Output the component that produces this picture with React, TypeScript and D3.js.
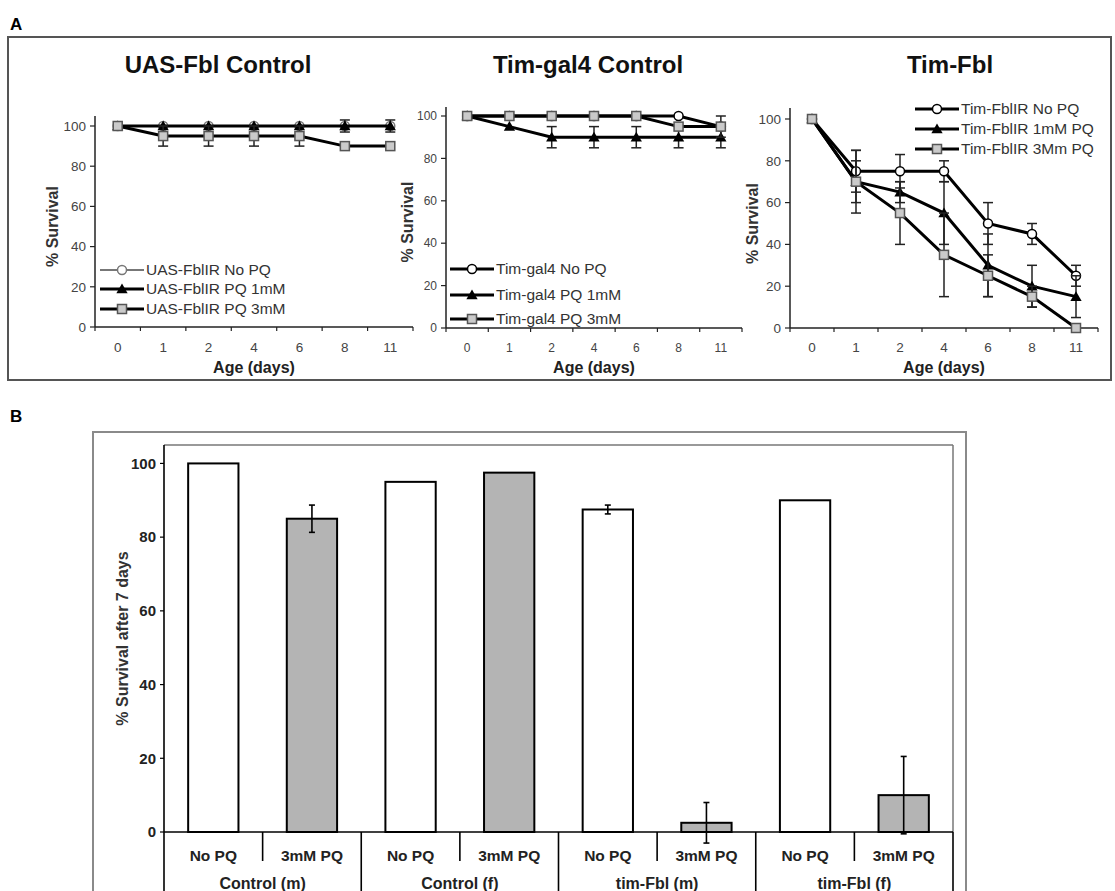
import React from 'react';
import * as d3 from 'd3';

const FONT = '"Liberation Sans", Arial, Helvetica, sans-serif';

// ---------- Panel A data ----------
const ages = ['0', '1', '2', '4', '6', '8', '11'];
const yTicksA = [0, 20, 40, 60, 80, 100];

// UAS-Fbl Control
const uasNoPQ = [100, 100, 100, 100, 100, 100, 100];
const uasNoPQErr = [0, 0, 0, 0, 0, 0, 0];
const uas1mM = [100, 100, 100, 100, 100, 100, 100];
const uas1mMErr = [0, 0, 0, 0, 0, 3, 3];
const uas3mM = [100, 95, 95, 95, 95, 90, 90];
const uas3mMErr = [0, 5, 5, 5, 5, 0, 0];

// Tim-gal4 Control
const galNoPQ = [100, 100, 100, 100, 100, 100, 95];
const galNoPQErr = [0, 0, 0, 0, 0, 0, 0];
const gal1mM = [100, 95, 90, 90, 90, 90, 90];
const gal1mMErr = [0, 0, 5, 5, 5, 5, 5];
const gal3mM = [100, 100, 100, 100, 100, 95, 95];
const gal3mMErr = [0, 0, 0, 0, 0, 0, 5];

// Tim-Fbl
const timNoPQ = [100, 75, 75, 75, 50, 45, 25];
const timNoPQErr = [0, 10, 8, 5, 10, 5, 5];
const tim1mM = [100, 70, 65, 55, 30, 20, 15];
const tim1mMErr = [0, 15, 5, 15, 15, 10, 10];
const tim3mM = [100, 70, 55, 35, 25, 15, 0];
const tim3mMErr = [0, 10, 15, 20, 10, 5, 0];

// ---------- Panel B data ----------
const bGroups = ['Control (m)', 'Control (f)', 'tim-Fbl (m)', 'tim-Fbl (f)'];
const bTreatments = ['No PQ', '3mM PQ'];
const bValues = [100, 85, 95, 97.5, 87.5, 2.5, 90, 10];
const bErrors = [0, 3.7, 0, 0, 1.2, 5.5, 0, 10.5];
const yTicksB = [0, 20, 40, 60, 80, 100];

type Marker = 'circle' | 'triangle' | 'square';
interface Series {
  name: string;
  values: number[];
  errors: number[];
  marker: Marker;
  color?: string;
  width?: number;
}

interface PanelProps {
  title: string;
  titleX: number;
  series: Series[];
  xRange: [number, number];
  y0: number;
  y100: number;
  yTop: number;
  tickFont: number;
  yTitleX: number;
  legendX: number;
  legendY: number[];
}

const MarkerShape: React.FC<{ type: Marker; x: number; y: number; color?: string }> = ({ type, x, y, color }) => {
  if (type === 'circle') {
    return <circle cx={x} cy={y} r={4.5} fill="#fff" stroke={color || '#000'} strokeWidth={1.5} />;
  }
  if (type === 'triangle') {
    const p = d3.symbol().type(d3.symbolTriangle).size(55)();
    return <path d={p || ''} transform={`translate(${x},${y + 1})`} fill="#000" />;
  }
  return <rect x={x - 4.5} y={y - 4.5} width={9} height={9} fill="#cacaca" stroke="#555" strokeWidth={1.5} />;
};

const LinePanel: React.FC<PanelProps> = (p) => {
  const x = d3.scaleBand<string>().domain(ages).range(p.xRange).padding(0);
  const y = d3.scaleLinear().domain([0, 100]).range([p.y0, p.y100]);
  const cx = (a: string) => (x(a) || 0) + x.bandwidth() / 2;
  const line = d3.line<number>().x((_, i) => cx(ages[i])).y((v) => y(v));
  const boundaries = ages.map((a) => x(a) || 0).concat([p.xRange[1]]);

  return (
    <g fontFamily={FONT}>
      <text x={p.titleX} y={73} textAnchor="middle" fontSize={24} fontWeight="bold" fill="#111">
        {p.title}
      </text>
      {/* axes */}
      <line x1={p.xRange[0]} x2={p.xRange[0]} y1={p.yTop} y2={p.y0} stroke="#222" strokeWidth={1.5} />
      <line x1={p.xRange[0]} x2={p.xRange[1]} y1={p.y0} y2={p.y0} stroke="#222" strokeWidth={1.5} />
      {yTicksA.map((t) => (
        <g key={t}>
          <line x1={p.xRange[0] - 5} x2={p.xRange[0]} y1={y(t)} y2={y(t)} stroke="#222" strokeWidth={1.2} />
          <text x={p.xRange[0] - 9} y={y(t)} dy="0.35em" textAnchor="end" fontSize={p.tickFont} fill="#444">
            {t}
          </text>
        </g>
      ))}
      {boundaries.map((b, i) => (
        <line key={i} x1={b} x2={b} y1={p.y0} y2={p.y0 + 4} stroke="#222" strokeWidth={1.2} />
      ))}
      {ages.map((a) => (
        <text key={a} x={cx(a)} y={352} textAnchor="middle" fontSize={p.tickFont} fill="#444">
          {a}
        </text>
      ))}
      <text x={(p.xRange[0] + p.xRange[1]) / 2} y={373} textAnchor="middle" fontSize={16} fontWeight="bold" fill="#222">
        Age (days)
      </text>
      <text
        transform={`translate(${p.yTitleX},${(p.y0 + p.y100) / 2}) rotate(-90)`}
        textAnchor="middle"
        dy="0.35em"
        fontSize={16}
        fontWeight="bold"
        fill="#333"
      >
        % Survival
      </text>
      {/* series */}
      {p.series.map((s) => (
        <g key={s.name}>
          <path d={line(s.values) || ''} fill="none" stroke={s.color || '#000'} strokeWidth={s.width || 3} />
          {s.values.map((v, i) =>
            s.errors[i] > 0 ? (
              <g key={i} stroke="#222" strokeWidth={1.5}>
                <line x1={cx(ages[i])} x2={cx(ages[i])} y1={y(v - s.errors[i])} y2={y(v + s.errors[i])} />
                <line x1={cx(ages[i]) - 5} x2={cx(ages[i]) + 5} y1={y(v - s.errors[i])} y2={y(v - s.errors[i])} />
                <line x1={cx(ages[i]) - 5} x2={cx(ages[i]) + 5} y1={y(v + s.errors[i])} y2={y(v + s.errors[i])} />
              </g>
            ) : null
          )}
          {s.values.map((v, i) => (
            <MarkerShape key={i} type={s.marker} x={cx(ages[i])} y={y(v)} color={s.color} />
          ))}
        </g>
      ))}
      {/* legend */}
      {p.series.map((s, i) => (
        <g key={s.name} transform={`translate(${p.legendX},${p.legendY[i]})`}>
          <line x1={0} x2={44} y1={0} y2={0} stroke={s.color || '#000'} strokeWidth={s.width || 3} />
          <MarkerShape type={s.marker} x={22} y={0} color={s.color} />
          <text x={46} y={0} dy="0.35em" fontSize={15.5} fill="#333">
            {s.name}
          </text>
        </g>
      ))}
    </g>
  );
};

const BarPanel: React.FC = () => {
  const cats = bGroups.flatMap((g) => bTreatments.map((t) => `${g}|${t}`));
  const left = 164;
  const right = 953;
  const axisY = 832;
  const x = d3.scaleBand<string>().domain(cats).range([left, right]).paddingInner(0.49).paddingOuter(0.245);
  const y = d3.scaleLinear().domain([0, 105]).range([axisY, 445]);
  const step = x.step();
  const groupW = step * bTreatments.length;

  return (
    <g fontFamily={FONT}>
      {/* outer chart frame */}
      <rect x={93} y={432} width={873} height={480} fill="none" stroke="#8a8a8a" strokeWidth={2} />
      {/* plot area border */}
      <line x1={left} x2={right} y1={445} y2={445} stroke="#777" strokeWidth={1.5} />
      <line x1={right} x2={right} y1={445} y2={axisY} stroke="#777" strokeWidth={1.5} />
      {/* bars */}
      {cats.map((c, i) => (
        <rect
          key={c}
          x={x(c)}
          y={y(bValues[i])}
          width={x.bandwidth()}
          height={axisY - y(bValues[i])}
          fill={i % 2 === 0 ? '#fff' : '#b4b4b4'}
          stroke="#000"
          strokeWidth={2}
        />
      ))}
      {cats.map((c, i) => {
        if (!bErrors[i]) return null;
        const cx = (x(c) || 0) + x.bandwidth() / 2;
        const hi = y(bValues[i] + bErrors[i]);
        const lo = y(bValues[i] - bErrors[i]);
        return (
          <g key={c} stroke="#000" strokeWidth={1.6}>
            <line x1={cx} x2={cx} y1={hi} y2={lo} />
            <line x1={cx - 3} x2={cx + 3} y1={hi} y2={hi} />
            <line x1={cx - 3} x2={cx + 3} y1={lo} y2={lo} />
          </g>
        );
      })}
      {/* y axis */}
      <line x1={left} x2={left} y1={445} y2={891} stroke="#000" strokeWidth={1.6} />
      {yTicksB.map((t) => (
        <g key={t}>
          <line x1={left - 4} x2={left} y1={y(t)} y2={y(t)} stroke="#000" strokeWidth={1.2} />
          <text x={left - 8} y={y(t)} dy="0.35em" textAnchor="end" fontSize={15} fontWeight="bold" fill="#222">
            {t}
          </text>
        </g>
      ))}
      <text
        transform={`translate(122,${(445 + axisY) / 2}) rotate(-90)`}
        textAnchor="middle"
        dy="0.35em"
        fontSize={16}
        fontWeight="bold"
        fill="#333"
      >
        % Survival after 7 days
      </text>
      {/* x axis with grouped labels */}
      <line x1={left} x2={right} y1={axisY} y2={axisY} stroke="#000" strokeWidth={1.6} />
      {cats.map((c, i) => {
        const x0 = left + step * i;
        const isGroup = i % bTreatments.length === 0;
        return isGroup ? null : (
          <line key={c} x1={x0} x2={x0} y1={axisY} y2={861} stroke="#000" strokeWidth={1.6} />
        );
      })}
      {bGroups.map((g, i) => (
        <line key={g} x1={left + groupW * (i + 1)} x2={left + groupW * (i + 1)} y1={axisY} y2={891} stroke="#000" strokeWidth={1.6} />
      ))}
      {cats.map((c, i) => (
        <text key={c} x={(x(c) || 0) + x.bandwidth() / 2} y={861} textAnchor="middle" fontSize={15.5} fontWeight="bold" fill="#222">
          {bTreatments[i % bTreatments.length]}
        </text>
      ))}
      {bGroups.map((g, i) => (
        <text key={g} x={left + groupW * (i + 0.5)} y={889} textAnchor="middle" fontSize={16} fontWeight="bold" fill="#222">
          {g}
        </text>
      ))}
    </g>
  );
};

export default function App() {
  const panel1: Series[] = [
    { name: 'UAS-FblIR No PQ', values: uasNoPQ, errors: uasNoPQErr, marker: 'circle', color: '#777', width: 2 },
    { name: 'UAS-FblIR PQ 1mM', values: uas1mM, errors: uas1mMErr, marker: 'triangle' },
    { name: 'UAS-FblIR PQ 3mM', values: uas3mM, errors: uas3mMErr, marker: 'square' },
  ];
  const panel2: Series[] = [
    { name: 'Tim-gal4 No PQ', values: galNoPQ, errors: galNoPQErr, marker: 'circle' },
    { name: 'Tim-gal4 PQ 1mM', values: gal1mM, errors: gal1mMErr, marker: 'triangle' },
    { name: 'Tim-gal4 PQ 3mM', values: gal3mM, errors: gal3mMErr, marker: 'square' },
  ];
  const panel3: Series[] = [
    { name: 'Tim-FblIR No PQ', values: timNoPQ, errors: timNoPQErr, marker: 'circle' },
    { name: 'Tim-FblIR 1mM PQ', values: tim1mM, errors: tim1mMErr, marker: 'triangle' },
    { name: 'Tim-FblIR 3Mm PQ', values: tim3mM, errors: tim3mMErr, marker: 'square' },
  ];

  return (
    <svg
      width={1115}
      height={891}
      style={{ position: 'absolute', left: 0, top: 0, background: '#fff' }}
      fontFamily={FONT}
    >
      <rect width={1115} height={891} fill="#fff" />
      <text x={10} y={30} fontSize={17} fontWeight="bold">A</text>
      <text x={10} y={422} fontSize={17} fontWeight="bold">B</text>
      <rect x={8} y={37} width={1103} height={343} fill="none" stroke="#555" strokeWidth={2} />
      <LinePanel
        title="UAS-Fbl Control"
        titleX={218}
        series={panel1}
        xRange={[95, 413]}
        y0={327}
        y100={126}
        yTop={116}
        tickFont={13.5}
        yTitleX={52}
        legendX={100}
        legendY={[270, 289, 309]}
      />
      <LinePanel
        title="Tim-gal4 Control"
        titleX={588}
        series={panel2}
        xRange={[446, 742]}
        y0={328}
        y100={116}
        yTop={107}
        tickFont={12}
        yTitleX={407}
        legendX={450}
        legendY={[269, 295, 319]}
      />
      <LinePanel
        title="Tim-Fbl"
        titleX={950}
        series={panel3}
        xRange={[790, 1098]}
        y0={328}
        y100={119}
        yTop={108}
        tickFont={13.5}
        yTitleX={752}
        legendX={915}
        legendY={[109, 129, 149]}
      />
      <BarPanel />
    </svg>
  );
}
